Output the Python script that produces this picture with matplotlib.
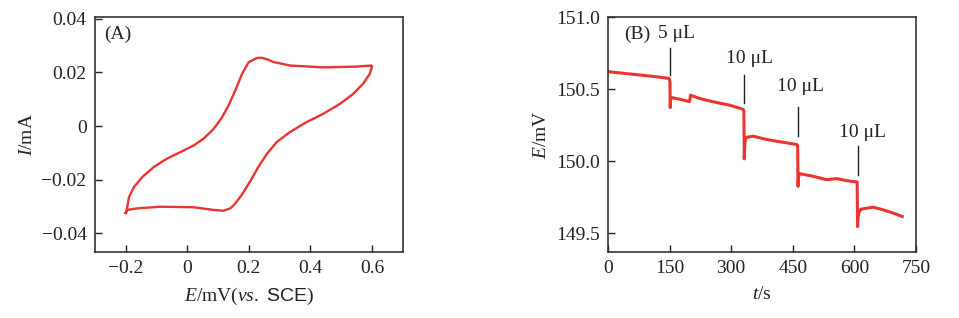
import matplotlib
matplotlib.use("Agg")
import matplotlib.pyplot as plt

plt.rcParams['font.family'] = ['Liberation Serif', 'DejaVu Serif']
plt.rcParams['mathtext.fontset'] = 'custom'
plt.rcParams['mathtext.rm'] = 'Liberation Serif'
plt.rcParams['mathtext.it'] = 'Liberation Serif:italic'
plt.rcParams['mathtext.sf'] = 'Liberation Sans'

red = '#e8352f'
ink = '#222222'
fs = 14

# (A) cyclic voltammogram, E in V, I in mA  (forward then reverse scan)
cv_up_E = [-0.2, -0.198, -0.189, -0.173, -0.146, -0.108, -0.065, -0.022, 0.021, 0.053,
           0.086, 0.113, 0.134, 0.156, 0.178, 0.199, 0.226, 0.242, 0.260, 0.280,
           0.334, 0.442, 0.550, 0.598]
cv_up_I = [-0.0324, -0.0320, -0.0264, -0.0227, -0.0190, -0.0152, -0.0121, -0.0097, -0.0072, -0.0047,
           -0.0010, 0.0033, 0.0077, 0.0133, 0.0195, 0.0238, 0.0254, 0.0255, 0.0249, 0.0239,
           0.0226, 0.0219, 0.0222, 0.0226]
cv_down_E = [0.600, 0.593, 0.571, 0.539, 0.496, 0.442, 0.388, 0.334, 0.291, 0.259,
             0.231, 0.205, 0.178, 0.155, 0.140, 0.118, 0.086, 0.021, -0.087, -0.162,
             -0.195, -0.2]
cv_down_I = [0.0222, 0.0195, 0.0158, 0.0120, 0.0083, 0.0046, 0.0015, -0.0022, -0.0059, -0.0103,
             -0.0152, -0.0205, -0.0255, -0.0290, -0.0307, -0.0316, -0.0313, -0.0303, -0.0301, -0.0307,
             -0.0313, -0.0324]

# (B) potential vs time
t_s = [0, 53, 110, 149, 151, 151.5, 153, 175, 197, 199, 201, 223, 256, 297, 329, 331,
       332, 333, 335, 353, 386, 418, 459, 462, 463, 464, 466, 500, 532, 557, 581, 607,
       608, 609, 611, 616, 646, 670, 695, 717]
E_mV = [150.621, 150.605, 150.588, 150.574, 150.55, 150.372, 150.442, 150.430, 150.414, 150.416,
        150.458, 150.435, 150.412, 150.388, 150.36, 150.35, 150.016, 150.10, 150.163, 150.174,
        150.151, 150.135, 150.116, 150.11, 149.826, 149.88, 149.914, 149.895, 149.872, 149.879,
        149.865, 149.856, 149.546, 149.60, 149.64, 149.667, 149.681, 149.663, 149.64, 149.616]

add_labels = ['5 \u03bcL', '10 \u03bcL', '10 \u03bcL', '10 \u03bcL']
add_t = [150, 332, 462, 609]
add_text_xy = [(167, 150.884), (344, 150.709), (470, 150.516), (620, 150.20)]
add_line_E = [(150.598, 150.784), (150.402, 150.598), (150.174, 150.379), (149.902, 150.105)]

fig = plt.figure(figsize=(9.59, 3.18), dpi=100)
axA = fig.add_axes([0.099, 0.2075, 0.321, 0.739])
axB = fig.add_axes([0.634, 0.2075, 0.321, 0.739])

axA.plot(cv_up_E + cv_down_E, cv_up_I + cv_down_I, color=red, lw=1.7)
axA.set_xlim(-0.3, 0.7)
axA.set_ylim(-0.047, 0.0407)
axA.set_xticks([-0.2, 0, 0.2, 0.4, 0.6])
axA.set_xticklabels(['\u22120.2', '0', '0.2', '0.4', '0.6'])
axA.set_yticks([-0.04, -0.02, 0, 0.02, 0.04])
axA.set_yticklabels(['\u22120.04', '\u22120.02', '0', '0.02', '0.04'])
axA.set_xlabel(r'$E$/mV($vs.$ $\mathsf{SCE}$)', fontsize=fs, color=ink)
axA.set_ylabel(r'$I$/mA', fontsize=fs, color=ink)
axA.text(0.075, 0.925, '(A)', transform=axA.transAxes, fontsize=fs, color=ink, ha='center', va='center')

axB.plot(t_s, E_mV, color=red, lw=2.2)
axB.set_xlim(0, 750)
axB.set_ylim(149.37, 151.0)
axB.set_xticks([0, 150, 300, 450, 600, 750])
axB.set_yticks([149.5, 150.0, 150.5, 151.0])
axB.set_yticklabels(['149.5', '150.0', '150.5', '151.0'])
axB.set_xlabel(r'$t$/s', fontsize=fs, color=ink)
axB.set_ylabel(r'$E$/mV', fontsize=fs, color=ink)
axB.text(0.094, 0.925, '(B)', transform=axB.transAxes, fontsize=fs, color=ink, ha='center', va='center')
for lab, t, (tx, ty), (e0, e1) in zip(add_labels, add_t, add_text_xy, add_line_E):
    axB.plot([t, t], [e0, e1], color=ink, lw=1.0)
    axB.text(tx, ty, lab, fontsize=fs, color=ink, ha='center', va='center')

for ax in (axA, axB):
    ax.tick_params(direction='in', length=5, width=1, colors=ink, labelsize=fs, pad=6,
                   top=False, right=False)
    for sp in ax.spines.values():
        sp.set_linewidth(1.2)
        sp.set_color('#333333')
    ax.xaxis.labelpad = 6
    ax.yaxis.labelpad = 4

fig.savefig('out.png', dpi=100)
